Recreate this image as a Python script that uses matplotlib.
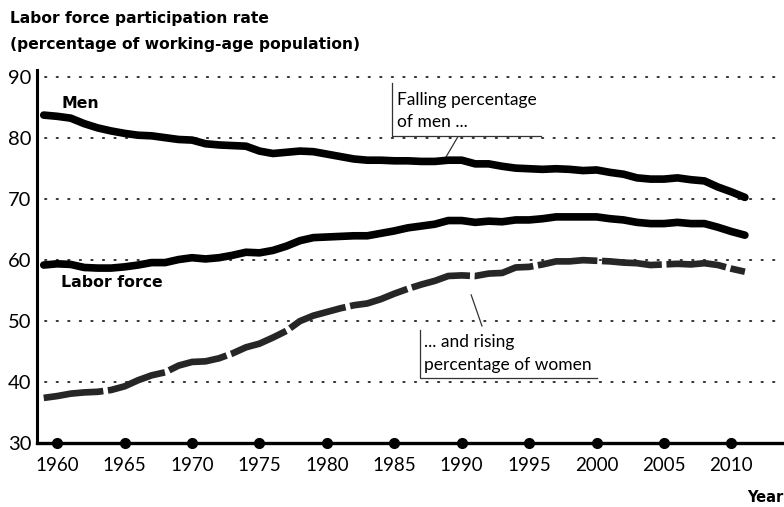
import matplotlib.pyplot as plt

plt.rcParams['font.family'] = ['Lato', 'DejaVu Sans']

years = list(range(1959, 2012))
men = [83.8, 83.6, 83.3, 82.4, 81.7, 81.2, 80.8, 80.5, 80.4, 80.1, 79.8,
       79.7, 79.1, 78.9, 78.8, 78.7, 77.9, 77.5, 77.7, 77.9, 77.8,
       77.4, 77.0, 76.6, 76.4, 76.4, 76.3, 76.3, 76.2, 76.2, 76.4,
       76.4, 75.8, 75.8, 75.4, 75.1, 75.0, 74.9, 75.0, 74.9, 74.7,
       74.8, 74.4, 74.1, 73.5, 73.3, 73.3, 73.5, 73.2, 73.0, 72.0,
       71.2, 70.3]
labor = [59.2, 59.4, 59.3, 58.8, 58.7, 58.7, 58.9, 59.2, 59.6, 59.6, 60.1,
         60.4, 60.2, 60.4, 60.8, 61.3, 61.2, 61.6, 62.3, 63.2, 63.7,
         63.8, 63.9, 64.0, 64.0, 64.4, 64.8, 65.3, 65.6, 65.9, 66.5,
         66.5, 66.2, 66.4, 66.3, 66.6, 66.6, 66.8, 67.1, 67.1, 67.1,
         67.1, 66.8, 66.6, 66.2, 66.0, 66.0, 66.2, 66.0, 66.0, 65.4,
         64.7, 64.1]
women = [37.4, 37.7, 38.1, 38.3, 38.4, 38.7, 39.3, 40.3, 41.1, 41.6, 42.7,
         43.3, 43.4, 43.9, 44.7, 45.7, 46.3, 47.3, 48.4, 50.0, 50.9,
         51.5, 52.1, 52.6, 52.9, 53.6, 54.5, 55.3, 56.0, 56.6, 57.4,
         57.5, 57.4, 57.8, 57.9, 58.8, 58.9, 59.3, 59.8, 59.8, 60.0,
         59.9, 59.8, 59.6, 59.5, 59.2, 59.3, 59.4, 59.3, 59.5, 59.2,
         58.6, 58.1]
xticks = list(range(1960, 2015, 5))
yticks = [30, 40, 50, 60, 70, 80, 90]

bold = dict(family='DejaVu Sans', fontweight='bold')

fig = plt.figure(figsize=(7.84, 5.07), dpi=100)
ax = fig.add_axes([37/784, 1-443/507, 1-37/784, (443-70)/507])

# dotted grid
for y in yticks[1:]:
    ax.plot([1959.1, 2013.4], [y, y], color='#222222', lw=1.3,
            ls=(0, (0.8, 5.6)), dash_capstyle='round', zorder=1)

ax.plot(years, men, color='black', lw=5.5, solid_capstyle='round', zorder=3)
ax.plot(years, labor, color='black', lw=5.5, solid_capstyle='round', zorder=3)
ax.plot(years, women, color='#262626', lw=4.8, ls=(0, (9, 0.7)), zorder=3)

# dots on the x axis
ax.plot(xticks, [30]*len(xticks), 'o', color='black', ms=7, clip_on=False, zorder=4)

ax.set_xlim(1958.5, 2013.9)
ax.set_ylim(30, 91.2)
ax.set_xticks(xticks)
ax.set_yticks(yticks)
ax.tick_params(axis='x', length=0, pad=10, labelsize=13.5)
ax.tick_params(axis='y', length=0, pad=4, labelsize=14.5)
for s in ['top', 'right']:
    ax.spines[s].set_visible(False)
ax.spines['left'].set_linewidth(2.2)
ax.spines['bottom'].set_linewidth(2.4)

ax.text(1960.3, 85.7, 'Men', fontsize=11.3, va='center', **bold)
ax.text(1960.3, 56.3, 'Labor force', fontsize=11.3, va='center', **bold)

# callout boxes
ax.plot([1984.8, 1984.8, 1995.9], [89.0, 80.3, 80.3], color='#333333', lw=0.9)
ax.text(1985.2, 86.2, 'Falling percentage', fontsize=12.5, va='center')
ax.text(1985.2, 82.6, 'of men ...', fontsize=12.5, va='center')
ax.plot([1989.7, 1988.8], [80.2, 76.8], color='#333333', lw=0.9)

ax.plot([1986.9, 1986.9, 2000.0], [48.5, 40.7, 40.7], color='#333333', lw=0.9)
ax.text(1987.2, 46.6, '... and rising', fontsize=12.5, va='center')
ax.text(1987.2, 42.8, 'percentage of women', fontsize=12.5, va='center')
ax.plot([1990.7, 1991.5], [54.3, 49.2], color='#333333', lw=0.9)

fig.text(10/784, 1-18/507, 'Labor force participation rate', fontsize=11.2,
         va='center', **bold)
fig.text(10/784, 1-45/507, '(percentage of working-age population)', fontsize=11.2,
         va='center', **bold)
fig.text(783/784, 1-498/507, 'Year', fontsize=10.5, va='center', ha='right', **bold)

fig.savefig('out.png', dpi=100)
